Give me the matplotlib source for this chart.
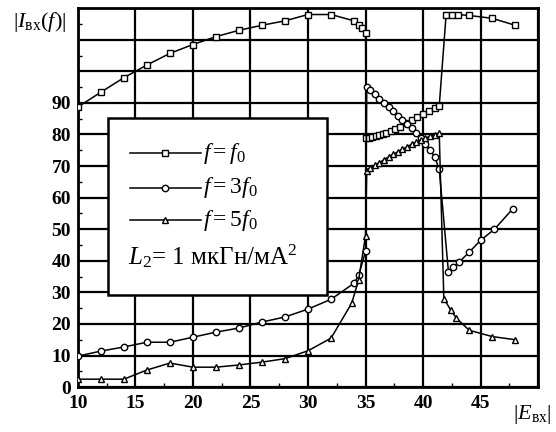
import matplotlib
matplotlib.use("Agg")
import matplotlib.pyplot as plt
from matplotlib.patches import Rectangle
from matplotlib.lines import Line2D

plt.rcParams['font.family'] = ['Liberation Serif', 'DejaVu Serif']
plt.rcParams['mathtext.fontset'] = 'custom'
plt.rcParams['mathtext.rm'] = 'Liberation Serif'
plt.rcParams['mathtext.it'] = 'Liberation Serif:italic'

# f = f0
x_f1 = [10, 12, 14, 16, 18, 20, 22, 24, 26, 28, 30, 32, 34, 34.4, 34.7, 35,
        35.05, 35.3, 35.6, 35.9, 36.2, 36.5, 36.8, 37.2, 37.6, 38, 38.5, 39,
        39.5, 40, 40.5, 41, 41.4, 42, 42.5, 43, 44, 46, 48]
y_f1 = [88.7, 93.4, 98, 102, 105.7, 108.5, 111, 113, 114.6, 116, 118, 118, 116,
        114.6, 113.6, 112, 78.8, 79, 79.3, 79.6, 79.9, 80.2, 80.6, 81.2, 81.8,
        82.5, 83.5, 84.6, 85.6, 86.6, 87.5, 88.3, 89, 118, 118, 118, 117.7,
        116.8, 114.6]

# f = 3f0
x_f3 = [10, 12, 14, 16, 18, 20, 22, 24, 26, 28, 30, 32, 34, 34.4, 35,
        35.1, 35.4, 35.8, 36.2, 36.6, 37, 37.4, 37.8, 38.2, 38.6, 39, 39.4,
        39.8, 40.2, 40.6, 41, 41.4, 42.2, 42.6, 43.1, 44, 45, 46.2, 47.8]
y_f3 = [9.8, 11.4, 12.7, 14.2, 14.2, 15.8, 17.4, 18.7, 20.6, 22.2, 24.7, 27.8,
        32.9, 35.4, 43, 95, 94, 92.7, 91.3, 90, 88.6, 87.3, 86, 84.6, 83.3, 82,
        80.6, 79, 77, 75, 73, 69, 36.5, 38, 39.5, 42.7, 46.5, 50, 56.5]

# f = 5f0
x_f5 = [10, 12, 14, 16, 18, 20, 22, 24, 26, 28, 30, 32, 33.8, 34.4, 35,
        35.1, 35.4, 35.8, 36.2, 36.6, 37, 37.4, 37.8, 38.2, 38.6, 39, 39.4,
        39.8, 40.2, 40.6, 41, 41.4, 41.8, 42.4, 42.9, 44, 46, 48]
y_f5 = [2.5, 2.5, 2.5, 5.4, 7.6, 6.3, 6.3, 7, 7.9, 9, 11.5, 15.5, 26.6, 34, 48,
        68.5, 69.3, 70.2, 71.1, 72, 72.9, 73.7, 74.5, 75.3, 76.1, 76.9, 77.6,
        78.3, 78.9, 79.4, 79.9, 80.4, 28, 24.4, 21.8, 18, 16, 15]

xticks = [10, 15, 20, 25, 30, 35, 40, 45, 50]
xlabels = ['10', '15', '20', '25', '30', '35', '40', '45', '']
yticks = list(range(0, 130, 10))
ylabels = [str(v) if v <= 90 else '' for v in yticks]

fig = plt.figure(figsize=(5.56, 4.32), dpi=100)
ax = fig.add_axes([0.140, 0.104, 0.828, 0.877])

style = dict(color='black', lw=1.1, mfc='white', mec='black', mew=1.0, zorder=4)
ax.plot(x_f1, y_f1, marker='s', ms=4.2, **style)
ax.plot(x_f3, y_f3, marker='o', ms=4.6, **style)
ax.plot(x_f5, y_f5, marker='^', ms=4.4, **style)

ax.set_xlim(10, 50)
ax.set_ylim(0, 120)
ax.set_xticks(xticks)
ax.set_xticklabels(xlabels)
ax.set_yticks(yticks)
ax.set_yticklabels(ylabels)
ax.set_xticks([12.5, 17.5, 22.5, 27.5, 32.5, 37.5, 42.5, 47.5], minor=True)
ax.set_yticks(list(range(5, 120, 10)), minor=True)
ax.tick_params(which='both', direction='in', labelsize=14)
ax.tick_params(axis='x', pad=6)
ax.tick_params(axis='y', pad=5)
ax.tick_params(which='major', length=0)
ax.tick_params(which='minor', length=3, width=1)
for lab in ax.get_xticklabels() + ax.get_yticklabels():
    lab.set_fontweight('bold')
ax.grid(True, color='black', lw=1.6)
ax.set_axisbelow(True)
for s in ax.spines.values():
    s.set_linewidth(2)

# legend box
ax.add_patch(Rectangle((0.065, 0.243), 0.476, 0.467, transform=ax.transAxes,
                       facecolor='white', edgecolor='black', lw=1.8, zorder=5))
rows = [('s', 4.2, r'$f=f_0$', 0.617),
        ('o', 4.6, r'$f=3f_0$', 0.526),
        ('^', 4.4, r'$f=5f_0$', 0.440)]
for mk, ms, txt, yy in rows:
    ax.add_line(Line2D([0.113, 0.268], [yy, yy], transform=ax.transAxes,
                       color='black', lw=1.1, zorder=6))
    ax.add_line(Line2D([0.19], [yy], transform=ax.transAxes, marker=mk, ms=ms,
                       mfc='white', mec='black', mew=1.0, zorder=7))
    ax.text(0.272, yy, txt, transform=ax.transAxes, fontsize=17,
            va='center', ha='left', zorder=7)
ax.text(0.108, 0.345, r'$L_2$= 1 мкГн/мА$^{2}$', transform=ax.transAxes,
        fontsize=18, va='center', ha='left', zorder=7)

fig.text(0.072, 0.950, r'$|I_{\rm вх}(f)|$', fontsize=16, ha='center', va='center')
fig.text(0.958, 0.040, r'$|E_{\rm вх}|$', fontsize=16, ha='center', va='center')

fig.savefig('out.png', dpi=100)
